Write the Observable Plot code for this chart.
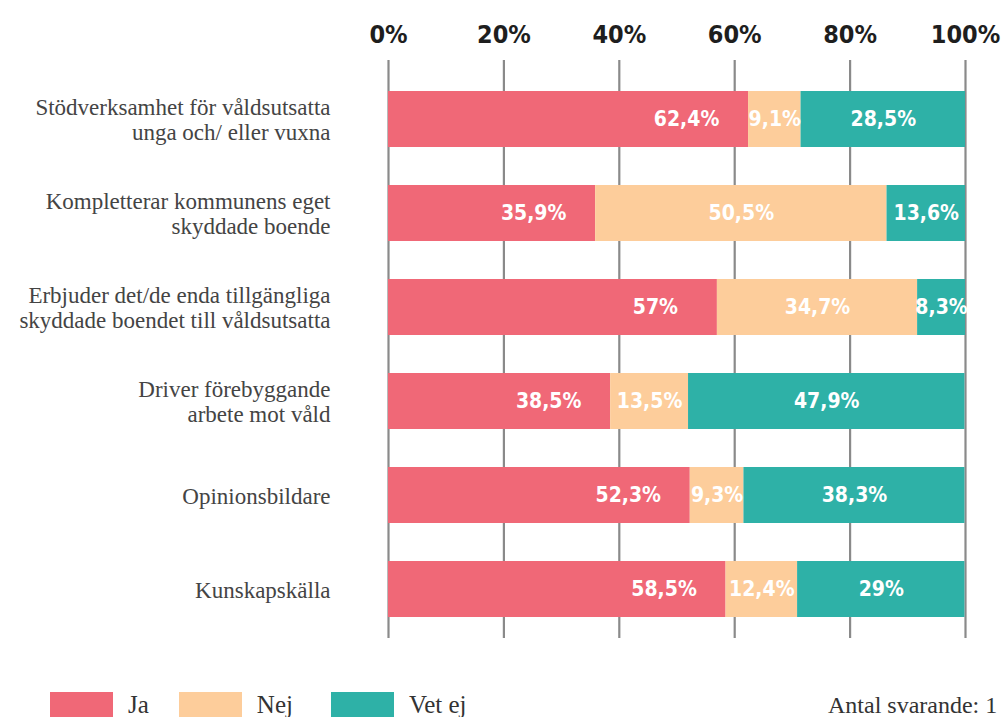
<!DOCTYPE html>
<html>
<head>
<meta charset="utf-8">
<script src="https://cdn.jsdelivr.net/npm/d3@7"></script>
<script src="https://cdn.jsdelivr.net/npm/@observablehq/plot@0.6"></script>
<style>
  body { margin: 0; background: #fff; overflow: hidden; }
  #wrap { position: relative; width: 1004px; height: 717px; overflow: hidden; }
  .legend { position: absolute; left: 50px; top: 692px; display: flex; align-items: center; height: 26px;
            font-family: "Liberation Serif", serif; font-size: 25px; color: #333; white-space: nowrap; }
  .sw { display: inline-block; width: 63px; height: 26px; margin-right: 15px; }
  .note { position: absolute; left: 828px; top: 692px; font-family: "Liberation Serif", serif; font-size: 24px;
          color: #333; white-space: nowrap; }
</style>
</head>
<body>
<div id="wrap">
  <div id="chart"></div>
  <div class="legend" id="legend"></div>
  <div class="note" id="note"></div>
</div>
<script>
const categories = [
  "Stödverksamhet för våldsutsatta\nunga och/ eller vuxna",
  "Kompletterar kommunens eget\nskyddade boende",
  "Erbjuder det/de enda tillgängliga\nskyddade boendet till våldsutsatta",
  "Driver förebyggande\narbete mot våld",
  "Opinionsbildare",
  "Kunskapskälla"
];
const series = ["Ja", "Nej", "Vet ej"];
const ja    = [62.4, 35.9, 57.0, 38.5, 52.3, 58.5];
const nej   = [9.1, 50.5, 34.7, 13.5, 9.3, 12.4];
const vetEj = [28.5, 13.6, 8.3, 47.9, 38.3, 29.0];
const colors = ["#F06877", "#FDCD9B", "#2EB1A7"];
const xTicks = [0, 20, 40, 60, 80, 100];
const noteText = "Antal svarande: 1";

const values = [ja, nej, vetEj];
const rows = categories.flatMap((c, i) => series.map((s, j) => ({ category: c, serie: s, value: values[j][i] })));
const fmt = v => String(v).replace(".", ",") + "%";

const labelFont = { fontFamily: "DejaVu Sans Condensed, DejaVu Sans", fontWeight: "bold", fontSize: 21, fill: "white" };

const chart = Plot.plot({
  width: 1004,
  height: 660,
  marginTop: 60,
  marginBottom: 22,
  marginLeft: 388,
  marginRight: 39,
  x: { domain: [0, 100] },
  y: { domain: categories, paddingInner: 0.404, paddingOuter: 0.266, align: 0.6 },
  color: { domain: series, range: colors },
  marks: [
    Plot.ruleX(xTicks, { stroke: "#8a8a8a", strokeWidth: 2.2 }),
    Plot.barX(rows, Plot.stackX({ x: "value", y: "category", fill: "serie", order: null })),
    Plot.textX(rows,
      Plot.stackX({ x: "value", y: "category", order: null,
        text: d => d.serie === "Ja" ? "" : fmt(d.value), ...labelFont })),
    Plot.textX(rows.filter(d => d.serie === "Ja"),
      { x: "value", y: "category", text: d => fmt(d.value), dx: -62, ...labelFont }),
    Plot.axisX(xTicks, { anchor: "top", tickSize: 0, tickPadding: 18, tickFormat: d => d + "%",
      fontFamily: "DejaVu Sans Condensed, DejaVu Sans", fontWeight: "bold", fontSize: 25, fill: "#1e1e1e", label: null }),
    Plot.axisY({ tickSize: 0, tickPadding: 58, fontFamily: "Liberation Serif", fontSize: 23,
      lineHeight: 1.1, fill: "#444", label: null })
  ]
});
document.getElementById("chart").appendChild(chart);

const leg = document.getElementById("legend");
const gaps = [30, 38, 0];
series.forEach((s, i) => {
  const item = document.createElement("span");
  item.style.display = "inline-flex";
  item.style.alignItems = "center";
  item.style.marginRight = gaps[i] + "px";
  item.innerHTML = `<span class="sw" style="background:${colors[i]}"></span><span>${s}</span>`;
  leg.appendChild(item);
});
document.getElementById("note").textContent = noteText;
</script>
</body>
</html>
